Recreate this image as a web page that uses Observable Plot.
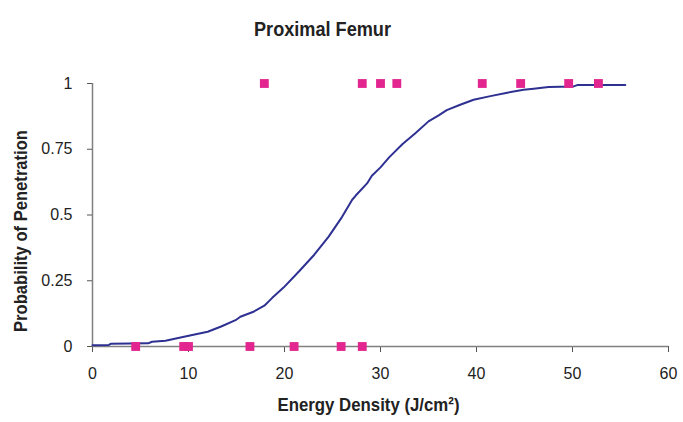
<!DOCTYPE html>
<html>
<head>
<meta charset="utf-8">
<script src="https://cdn.jsdelivr.net/npm/d3@7"></script>
<script src="https://cdn.jsdelivr.net/npm/@observablehq/plot@0.6"></script>
<style>
  html, body { margin: 0; padding: 0; background: #fff; }
</style>
</head>
<body>
<div id="chart"></div>
<script>
// Observed outcomes (energy density, penetrated 0/1)
const penetratedX = [17.9, 28.1, 30.0, 31.7, 40.6, 44.6, 49.6, 52.7];
const notPenetratedX = [4.5, 9.5, 10.0, 16.4, 21.0, 25.9, 28.1];

// Fitted probability curve
const curveX = [0, 1.7, 1.9, 5.8, 6.2, 7.6, 9.9, 12.0, 13.4, 14.9, 15.4, 16.7, 17.9, 18.7, 19.9, 21.5, 23.1, 24.6, 26.0, 27.05, 27.4, 28.6, 29.1, 30.0, 30.9, 32.3, 33.6, 35.0, 36.1, 36.9, 38.3, 39.7, 41.45, 43.2, 44.9, 45.95, 47.5, 50.1, 50.5, 55.5];
const curveY = [0.005, 0.006, 0.01, 0.012, 0.018, 0.022, 0.04, 0.056, 0.076, 0.10, 0.113, 0.131, 0.155, 0.184, 0.224, 0.285, 0.349, 0.418, 0.493, 0.558, 0.573, 0.62, 0.649, 0.681, 0.719, 0.77, 0.81, 0.856, 0.88, 0.899, 0.919, 0.938, 0.952, 0.965, 0.976, 0.98, 0.987, 0.989, 0.994, 0.994];

const xTicks = [0, 10, 20, 30, 40, 50, 60];
const yTicks = [0, 0.25, 0.5, 0.75, 1];

const titleText = "Proximal Femur";
const xTitle = "Energy Density (J/cm²)";
const yTitle = "Probability of Penetration";

const points = [
  ...penetratedX.map(x => ({x, y: 1})),
  ...notPenetratedX.map(x => ({x, y: 0}))
];
const curve = curveX.map((x, i) => ({x, y: curveY[i]}));

const bold = "'Liberation Sans', Arial, sans-serif";

const chart = Plot.plot({
  width: 683,
  height: 422,
  marginLeft: 92,
  marginRight: 15,
  marginTop: 83,
  marginBottom: 76,
  style: {background: "#fff", color: "#222", fontFamily: "'Liberation Sans', Arial, sans-serif", fontSize: "16px"},
  x: {domain: [0, 60]},
  y: {domain: [0, 1]},
  marks: [
    Plot.axisX({ticks: xTicks, tickSize: 6, tickPadding: 15, tickFormat: d => String(d), stroke: "#555", label: null, fontSize: 16}),
    Plot.axisY({ticks: yTicks, tickSize: 5, tickPadding: 15, tickFormat: d => String(d), stroke: "#555", label: null, fontSize: 16}),
    Plot.ruleY([0], {stroke: "#808080", strokeWidth: 1.5}),
    Plot.ruleX([0], {stroke: "#808080", strokeWidth: 1.5}),
    Plot.line(curve, {x: "x", y: "y", stroke: "#2e3192", strokeWidth: 2}),
    Plot.dot(points, {x: "x", y: "y", symbol: "square", r: 5, fill: "#e3268f", stroke: "none"}),
    Plot.text([titleText], {className: "t-title", frameAnchor: "top", text: d => d, dx: -58, dy: -62, fontSize: 21, fontWeight: "bold", fontFamily: bold, fill: "#222"}),
    Plot.text([xTitle], {className: "t-x", frameAnchor: "bottom", text: d => d, dx: -12, dy: 64, fontSize: 19, fontWeight: "bold", fontFamily: bold, fill: "#222"}),
    Plot.text([yTitle], {className: "t-y", frameAnchor: "left", textAnchor: "middle", text: d => d, rotate: -90, dx: -72, dy: 16, fontSize: 19, fontWeight: "bold", fontFamily: bold, fill: "#222"})
  ]
});
// condense the bold titles (reference uses a condensed face)
const condense = {"t-title": 137, "t-x": 182, "t-y": 202};
for (const [cls, len] of Object.entries(condense)) {
  d3.select(chart).selectAll(`g.${cls} text`).attr("textLength", len).attr("lengthAdjust", "spacingAndGlyphs");
}
document.getElementById("chart").appendChild(chart);
</script>
</body>
</html>
